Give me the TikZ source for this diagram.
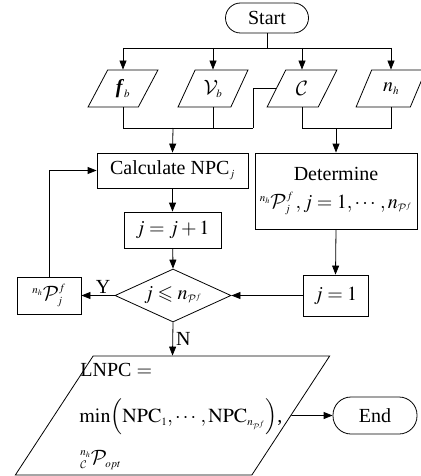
\documentclass[tikz,border=0pt]{standalone}
\usepackage{amsmath,amssymb}
\usepackage{mathptmx}
\usepackage[no-math]{fontspec}
\setmainfont{Liberation Serif}
\DeclareMathAlphabet{\mathcal}{OMS}{cmsy}{m}{n}
\DeclareMathSizes{20}{20}{11}{8}
\usetikzlibrary{shapes.geometric,arrows.meta}
\begin{document}
\begin{tikzpicture}[x=1pt,y=-1pt,
  font=\fontsize{20}{24}\selectfont,
  line width=0.8pt,
  >={Triangle[length=9pt,width=7pt]},
  box/.style={draw, rectangle, inner sep=0pt, align=center},
  term/.style={draw, rectangle, inner sep=0pt},
  io/.style={draw, trapezium, trapezium left angle=63, trapezium right angle=117,
             trapezium stretches=true, inner sep=2pt},
  dec/.style={draw, diamond, inner sep=0pt},
  lbl/.style={inner sep=0pt}]
\useasboundingbox (0,0) rectangle (420,476);

% terminals
\node[term, rounded corners=15pt, minimum width=83pt, minimum height=30pt] (start) at (267,18) {Start};
\node[term, rounded corners=18pt, minimum width=84pt, minimum height=37pt] (end) at (375,415.5) {End};

% inputs
\node[io, minimum width=70pt, minimum height=37pt] (fb) at (123,88.5) {$\textbf{\textit{f}}_b$};
\node[io, minimum width=70pt, minimum height=37pt] (Vb) at (213,88.5) {$\mathcal{V}_b$};
\node[io, minimum width=70pt, minimum height=37pt] (C)  at (302,88.5) {$\mathcal{C}$};
\node[io, minimum width=70pt, minimum height=37pt] (nh) at (391,88.5) {$n_h$};

% process boxes
\node[box, minimum width=151pt, minimum height=35pt] (calc) at (172.5,170.5) {Calculate NPC$_j$};
\node[box, minimum width=162pt, minimum height=76pt] (det) at (336,191)
  {Determine\\[4pt] ${}^{n_h}\mathcal{P}_j^f\,, j=1,\cdots,n_{\mathcal{P}^f}$};
\node[box, minimum width=97pt, minimum height=36pt] (inc) at (172.5,230) {$j=j+1$};
\node[dec, minimum width=116pt, minimum height=53pt] (cond) at (173,295.5) {};
\node[lbl] at (cond.center) {$j\leqslant n_{\mathcal{P}^f}$};
\node[box, minimum width=64pt, minimum height=37pt] (path) at (49,295.5) {${}^{n_h}\mathcal{P}_j^f$};
\node[box, minimum width=65pt, minimum height=41pt] (init) at (335.5,295.5) {$j=1$};

% output
\node[io, trapezium left angle=62.5, trapezium right angle=117.5,
      minimum width=315pt, minimum height=119pt] (out) at (172.5,415.5) {\phantom{x}};
\node[lbl, anchor=west] (o1) at (80,370) {LNPC $=$};
\node[lbl, anchor=west] (o2) at (79,417) {$\min\Bigl(\mathrm{NPC}_1,\cdots,\mathrm{NPC}_{n_{\mathcal{P}^f}}\Bigr)$,};
\node[lbl, anchor=west] (o3) at (80,460) {${}^{n_h}_{\mathcal{C}}\mathcal{P}_{opt}$};

% coordinates
\coordinate (split) at (267,48);
\coordinate (m1) at (173,128);
\coordinate (k) at (253,128);
\coordinate (m2) at (336,128);

% connectors
\draw (start) -- (split);
\draw (fb.north |- split) -- (nh.north |- split);
\foreach \n in {fb,Vb,C,nh} \draw[->] (\n.north |- split) -- (\n.north);
\draw (fb.south) |- (k);
\draw (Vb.south) -- (Vb.south |- k);
\draw (C.west) -| (k);
\draw[->] (m1) -- (calc.north);
\draw (C.south) |- (nh.south |- m2) -- (nh.south);
\draw[->] (m2) -- (det.north);
\draw[->] (calc) -- (inc);
\draw[->] (inc) -- (cond.north);
\draw[->] (det.south) -- (init.north);
\draw[->] (init) -- (cond.east);
\draw[->] (cond.west) -- node[above, pos=0.35, inner sep=2pt] (ylab) {Y} (path.east);
\draw[->] (path.north) |- (calc.west);
\draw[->] (cond.south) -- node[right, inner sep=3pt] (nlab) {N} (out.north);
\draw[->] (out.east) -- (end.west);
\end{tikzpicture}
\end{document}
